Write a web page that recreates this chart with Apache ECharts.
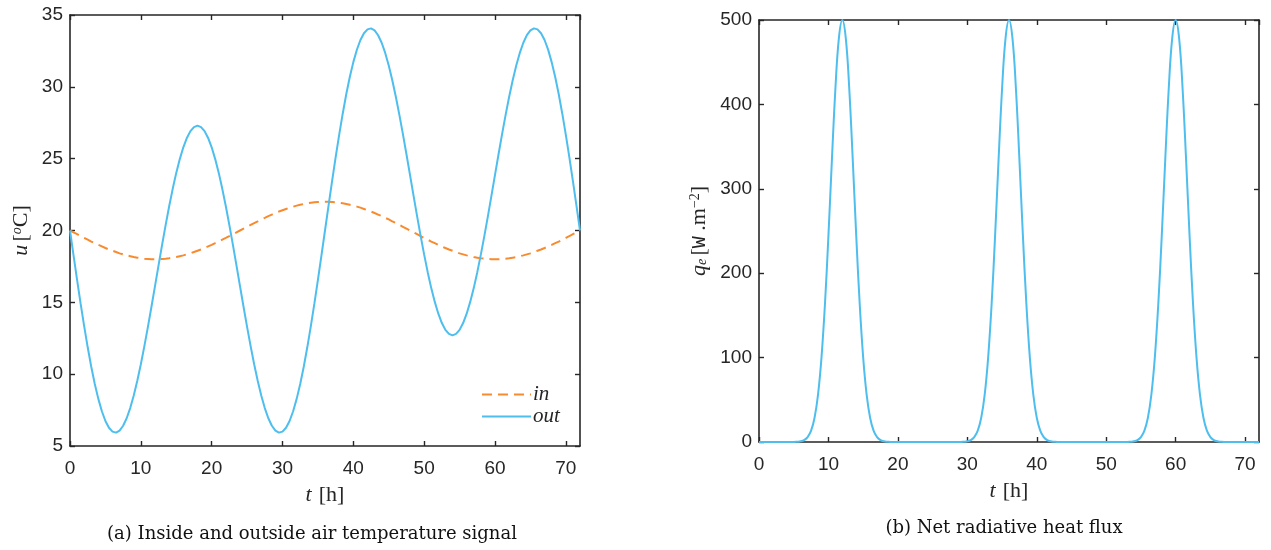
<!DOCTYPE html>
<html>
<head>
<meta charset="utf-8">
<script src="https://cdn.jsdelivr.net/npm/echarts@6/dist/echarts.min.js"></script>
<style>
html,body{margin:0;padding:0;background:#fff;}
#chart{width:1271px;height:550px;}
</style>
</head>
<body>
<div id="chart"></div>
<script>
// ---- Data ----
const tHalf = Array.from({length: 145}, (_, i) => i / 2); // 0..72 h, half-hour samples
const tempIn = [
  20.00,
  19.87,19.74,19.61,19.48,19.36,19.23,19.12,19.00,18.89,18.78,18.68,18.59,18.50,18.41,18.34,18.27,
  18.21,18.15,18.11,18.07,18.04,18.02,18.00,18.00,18.00,18.02,18.04,18.07,18.11,18.15,18.21,18.27,
  18.34,18.41,18.50,18.59,18.68,18.78,18.89,19.00,19.12,19.23,19.36,19.48,19.61,19.74,19.87,20.00,
  20.13,20.26,20.39,20.52,20.64,20.77,20.88,21.00,21.11,21.22,21.32,21.41,21.50,21.59,21.66,21.73,
  21.79,21.85,21.89,21.93,21.96,21.98,22.00,22.00,22.00,21.98,21.96,21.93,21.89,21.85,21.79,21.73,
  21.66,21.59,21.50,21.41,21.32,21.22,21.11,21.00,20.88,20.77,20.64,20.52,20.39,20.26,20.13,20.00,
  19.87,19.74,19.61,19.48,19.36,19.23,19.12,19.00,18.89,18.78,18.68,18.59,18.50,18.41,18.34,18.27,
  18.21,18.15,18.11,18.07,18.04,18.02,18.00,18.00,18.00,18.02,18.04,18.07,18.11,18.15,18.21,18.27,
  18.34,18.41,18.50,18.59,18.68,18.78,18.89,19.00,19.12,19.23,19.36,19.48,19.61,19.74,19.87,20.00
];
const tempOut = [
  20.00,18.27,16.56,14.91,13.34,11.87,10.52,9.32,8.28,7.42,6.74,6.27,6.00,5.93,6.07,6.41,
  6.93,7.64,8.52,9.54,10.69,11.95,13.29,14.69,16.13,17.57,19.00,20.37,21.69,22.90,24.01,24.97,
  25.79,26.44,26.92,27.20,27.30,27.20,26.92,26.44,25.79,24.97,24.01,22.90,21.69,20.37,19.00,17.57,
  16.13,14.69,13.29,11.95,10.69,9.54,8.52,7.64,6.93,6.41,6.07,5.93,6.00,6.27,6.74,7.42,
  8.28,9.32,10.52,11.87,13.34,14.91,16.56,18.27,20.00,21.73,23.44,25.09,26.66,28.13,29.48,30.68,
  31.72,32.58,33.26,33.73,34.00,34.07,33.93,33.59,33.07,32.36,31.48,30.46,29.31,28.05,26.71,25.31,
  23.87,22.43,21.00,19.63,18.32,17.10,15.99,15.03,14.21,13.56,13.08,12.80,12.70,12.80,13.08,13.56,
  14.21,15.03,15.99,17.10,18.32,19.63,21.00,22.43,23.87,25.31,26.71,28.05,29.31,30.46,31.48,32.36,
  33.07,33.60,33.93,34.07,34.00,33.73,33.26,32.59,31.72,30.68,29.48,28.13,26.66,25.09,23.44,21.73,
  20.00
];
const qFlux = [
  0,0,0,0,0,0,0,0,0,0,0,
  0.3,0.8,2.3,5.8,13.4,28.7,56.1,100.3,163.8,244.8,334.6,418.3,478.2,500,478.2,418.3,334.6,244.8,163.8,100.3,56.1,28.7,13.4,5.8,2.3,0.8,0.3,
  0,0,0,0,0,0,0,0,0,0,0,0,0,0,0,0,0,0,0,0,0,
  0.3,0.8,2.3,5.8,13.4,28.7,56.1,100.3,163.8,244.8,334.6,418.3,478.2,500,478.2,418.3,334.6,244.8,163.8,100.3,56.1,28.7,13.4,5.8,2.3,0.8,0.3,
  0,0,0,0,0,0,0,0,0,0,0,0,0,0,0,0,0,0,0,0,0,
  0.3,0.8,2.3,5.8,13.4,28.7,56.1,100.3,163.8,244.8,334.6,418.3,478.2,500,478.2,418.3,334.6,244.8,163.8,100.3,56.1,28.7,13.4,5.8,2.3,0.8,0.3,
  0,0,0,0,0,0,0,0,0,0,0
];
const xTicks = {min: 0, max: 72, interval: 10};
const yTicksA = {min: 5, max: 35, interval: 5};
const yTicksB = {min: 0, max: 500, interval: 100};
const captionA = '(a) Inside and outside air temperature signal';
const captionB = '(b) Net radiative heat flux';

// ---- Styles ----
const AX = '#262626';
const BLUE = '#4DBEEE';
const ORANGE = '#F98B2F';
const SANS = 'Liberation Sans, Arial, sans-serif';
const SERIF = 'Liberation Serif, Times New Roman, serif';
const CAPSERIF = 'DejaVu Serif, serif';
const MONO = 'Liberation Mono, monospace';

const pair = (xs, ys) => xs.map((x, i) => [x, ys[i]]);

function xAx(grid, pos, rng, withName) {
  return {
    type: 'value', gridIndex: grid, position: pos,
    min: rng.min, max: rng.max, interval: rng.interval,
    axisLine: {show: true, onZero: false, lineStyle: {color: AX, width: 1.6}},
    axisTick: {show: true, inside: true, length: 5, lineStyle: {color: AX, width: 1.4}},
    axisLabel: {show: withName, color: AX, fontSize: 19, fontFamily: SANS, margin: 13,
      showMaxLabel: false, formatter: v => (v % 10 === 0 ? String(v) : '')},
    splitLine: {show: false},
    name: withName ? '{i|t}{n|[h]}' : '',
    nameLocation: 'middle', nameGap: 38,
    nameTextStyle: {rich: {
      i: {fontFamily: SERIF, fontStyle: 'italic', fontSize: 22, color: AX},
      n: {fontFamily: SERIF, fontSize: 22, color: AX, padding: [0, 0, 0, 7]}
    }}
  };
}
function yAx(grid, pos, rng, withName, name, gap) {
  return {
    type: 'value', gridIndex: grid, position: pos,
    min: rng.min, max: rng.max, interval: rng.interval,
    axisLine: {show: true, onZero: false, lineStyle: {color: AX, width: 1.6}},
    axisTick: {show: true, inside: true, length: 5, lineStyle: {color: AX, width: 1.4}},
    axisLabel: {show: withName, color: AX, fontSize: 19, fontFamily: SANS, margin: 7},
    splitLine: {show: false},
    name: withName ? name : '',
    nameLocation: 'middle', nameGap: gap, nameRotate: 90,
    nameTextStyle: {rich: {
      i: {fontFamily: SERIF, fontStyle: 'italic', fontSize: 22, color: AX},
      sub: {fontFamily: SERIF, fontStyle: 'italic', fontSize: 14, color: AX, padding: [6, 0, 0, 0]},
      n: {fontFamily: SERIF, fontSize: 22, color: AX},
      m: {fontFamily: MONO, fontSize: 20, color: AX},
      sup: {fontFamily: SERIF, fontSize: 14, color: AX, padding: [0, 0, 9, 0]},
      supi: {fontFamily: SERIF, fontStyle: 'italic', fontSize: 14, color: AX, padding: [0, 0, 9, 0]}
    }}
  };
}

const chart = echarts.init(document.getElementById('chart'), null, {renderer: 'canvas'});
chart.setOption({
  backgroundColor: '#fff',
  animation: false,
  grid: [
    {left: 70, top: 15, width: 510, height: 431},
    {left: 759, top: 20, width: 500, height: 422}
  ],
  xAxis: [
    xAx(0, 'bottom', xTicks, true),
    xAx(0, 'top', xTicks, false),
    xAx(1, 'bottom', xTicks, true),
    xAx(1, 'top', xTicks, false)
  ],
  yAxis: [
    yAx(0, 'left', yTicksA, true, '{i|u} {n|[}{supi|o}{n|C]}', 37),
    yAx(0, 'right', yTicksA, false, '', 0),
    yAx(1, 'left', yTicksB, true, '{i|q}{sub|e} {n|[}{m|W}{n| .m}{sup|\u22122}{n|]}', 48),
    yAx(1, 'right', yTicksB, false, '', 0)
  ],
  legend: {
    orient: 'vertical', left: 476, top: 379,
    itemWidth: 49, itemHeight: 12, itemGap: 1,
    data: ['in', 'out'],
    itemStyle: {color: 'rgba(0,0,0,0)', borderColor: 'rgba(0,0,0,0)', borderWidth: 0},
    textStyle: {fontFamily: SERIF, fontStyle: 'italic', fontSize: 21, color: AX, padding: [0, 0, 0, -3]}
  },
  series: [
    {name: 'in', type: 'line', xAxisIndex: 0, yAxisIndex: 0, data: pair(tHalf, tempIn),
      symbol: 'none', smooth: false, lineStyle: {color: ORANGE, width: 2, type: [10, 6]}, itemStyle: {color: ORANGE}},
    {name: 'out', type: 'line', xAxisIndex: 0, yAxisIndex: 0, data: pair(tHalf, tempOut),
      symbol: 'none', smooth: false, lineStyle: {color: BLUE, width: 2}, itemStyle: {color: BLUE}},
    {name: 'q', type: 'line', xAxisIndex: 2, yAxisIndex: 2, data: pair(tHalf, qFlux),
      symbol: 'none', smooth: 0.4, lineStyle: {color: BLUE, width: 2}, itemStyle: {color: BLUE}}
  ],
  graphic: [
    {type: 'text', x: 312, y: 534, style: {text: captionA, font: '18px ' + CAPSERIF, fill: '#111', align: 'center', verticalAlign: 'middle'}},
    {type: 'text', x: 1004, y: 528, style: {text: captionB, font: '18px ' + CAPSERIF, fill: '#111', align: 'center', verticalAlign: 'middle'}}
  ]
});
</script>
</body>
</html>
